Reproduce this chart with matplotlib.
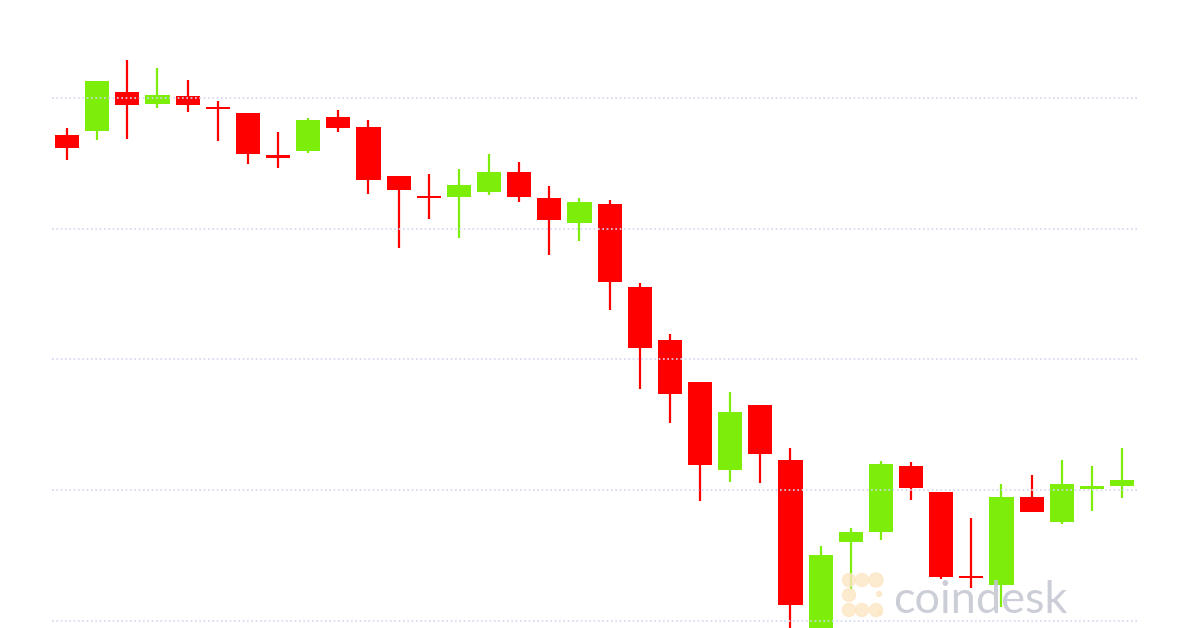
import matplotlib.pyplot as plt
from matplotlib.patches import Ellipse

# hourly candles (open, high, low, close)
opens = [35717, 35748, 36046, 35954, 36015, 35931, 35885, 35564, 35595, 35855,
         35778, 35403, 35243, 35243, 35281, 35434, 35235, 35044, 35189, 34554,
         34149, 33828, 33155, 33652, 33231, 31916, 32604, 32681, 33185, 32987,
         32337, 32275, 32948, 32757, 33010, 33032]
highs = [35770, 36130, 36290, 36229, 36138, 35977, 35885, 35740, 35847, 35908,
         35832, 35403, 35419, 35457, 35572, 35510, 35327, 35235, 35220, 34585,
         34195, 33828, 33751, 33652, 33323, 32574, 32711, 33224, 33216, 32987,
         32788, 33048, 33117, 33231, 33185, 33323]
lows = [35526, 35679, 35686, 35923, 35893, 35671, 35495, 35465, 35579, 35740,
        35266, 34853, 35075, 34929, 35258, 35205, 34799, 34906, 34379, 33774,
        33514, 32918, 33063, 33055, 31855, 31855, 32237, 32620, 32925, 32321,
        32252, 32107, 32834, 32742, 32841, 32941]
closes = [35617, 36130, 35946, 36023, 35946, 35916, 35572, 35541, 35832, 35770,
          35373, 35296, 35235, 35335, 35434, 35243, 35067, 35205, 34593, 34088,
          33736, 33193, 33598, 33277, 32122, 32505, 32681, 33201, 33017, 32337,
          32329, 32948, 32834, 33048, 33032, 33078]
grid_levels = [32000, 33000, 34000, 35000, 36000]

RED = '#ff0000'
GREEN = '#7ded0a'

fig = plt.figure(figsize=(12, 6.28), dpi=100)
ax = fig.add_axes([52 / 1200, 0, 1086 / 1200, 1])

min_body = 16
for i in range(len(opens)):
    o, h, l, c = opens[i], highs[i], lows[i], closes[i]
    col = GREEN if c >= o else RED
    ax.vlines(i, l, h, color=col, linewidth=1.6, zorder=2)
    bottom = min(o, c)
    height = max(abs(c - o), min_body)
    if abs(c - o) < min_body:
        bottom = (o + c) / 2 - min_body / 2
    ax.bar(i, height, bottom=bottom, width=0.8, color=col, zorder=2)

for g in grid_levels:
    ax.axhline(g, color='#d3d6f4', linewidth=1.2, linestyle=(0, (1, 1.6)), zorder=3)

ax.set_xlim(-0.5, len(opens) - 0.47)
ax.set_ylim(31946, 36749)
ax.axis('off')

# coindesk watermark
logo = [(849, 580, 13), (862, 580, 13), (876, 580, 14), (849, 595, 13),
        (849, 610, 13), (862, 610, 13), (876, 610, 13), (879, 594, 5), (880, 613, 4)]
for x, y, d in logo:
    fig.patches.append(Ellipse((x / 1200, 1 - y / 628), d / 1200, d / 628,
                               transform=fig.transFigure, color='#fde6c4',
                               alpha=0.8, zorder=5))
fig.text(893 / 1200, 1 - 613 / 628, 'coindesk', fontsize=32.5, family='Lato',
         color='#c3c6d0', alpha=0.85, ha='left', va='baseline', zorder=5)

fig.savefig('out.png', dpi=100)
